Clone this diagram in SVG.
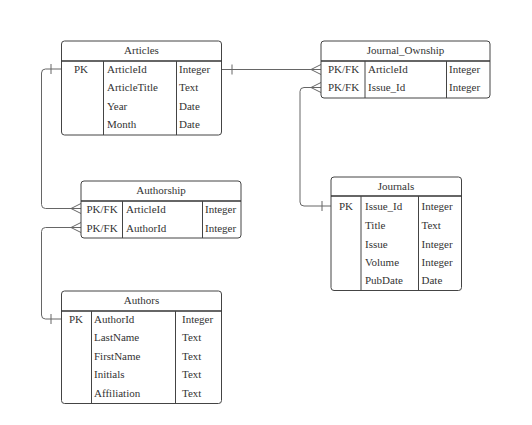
<svg xmlns="http://www.w3.org/2000/svg" width="532" height="425" viewBox="0 0 532 425">
<style>
.box{fill:#fff;stroke:#444;stroke-width:1}
.ln{stroke:#444;stroke-width:1;fill:none}
.hd{stroke:#333;stroke-width:1.3}
text{font-family:'Liberation Serif','DejaVu Serif',serif;font-size:11px;fill:#333}
.c{text-anchor:middle}
.cn{stroke:#666;stroke-width:1;fill:none}
</style>
<rect width="532" height="425" fill="#fff"/>
<g id="connectors">
<path class="cn" d="M222 69.5H311"/>
<path class="cn" d="M232 64.5V74.5"/>
<path class="cn" d="M311 69.5L321 64.5M311 69.5H321M311 69.5L321 74.5"/>
<path class="cn" d="M321 87.5H304Q300 87.5 300 91.5V202Q300 206 304 206H331"/>
<path class="cn" d="M311 87.5L321 82.5M311 87.5L321 92.5"/>
<path class="cn" d="M322 201V211"/>
<path class="cn" d="M61 69H45.5Q41.5 69 41.5 73V204.5Q41.5 208.5 45.5 208.5H81"/>
<path class="cn" d="M51 64V74"/>
<path class="cn" d="M71 208.5L81 203.5M71 208.5L81 213.5"/>
<path class="cn" d="M81 227.5H45.5Q41.5 227.5 41.5 231.5V315Q41.5 319 45.5 319H61"/>
<path class="cn" d="M71 227.5L81 222.5M71 227.5L81 232.5"/>
<path class="cn" d="M51 314V324"/>
</g>
<g id="articles">
<rect class="box" x="61.5" y="41" width="160" height="94" rx="3"/>
<path class="hd" d="M61.5 61H221.5"/>
<path class="ln" d="M103.5 61V135M176.5 61V135"/>
<text x="141.5" y="54" class="c">Articles</text>
<text x="74" y="72.5">PK</text>
<text x="107" y="72.5">ArticleId</text><text x="179" y="72.5">Integer</text>
<text x="107" y="91">ArticleTitle</text><text x="179" y="91">Text</text>
<text x="107" y="109.5">Year</text><text x="179" y="109.5">Date</text>
<text x="107" y="128">Month</text><text x="179" y="128">Date</text>
</g>
<g id="journal_ownship">
<rect class="box" x="321" y="41" width="169" height="57" rx="3"/>
<path class="hd" d="M321 61H490"/>
<path class="ln" d="M365 61V98M446.5 61V98"/>
<text x="405.5" y="54" class="c">Journal_Ownship</text>
<text x="328" y="72.5">PK/FK</text><text x="368" y="72.5">ArticleId</text><text x="449" y="72.5">Integer</text>
<text x="328" y="91">PK/FK</text><text x="368" y="91">Issue_Id</text><text x="449" y="91">Integer</text>
</g>
<g id="authorship">
<rect class="box" x="81" y="181" width="160" height="57" rx="3"/>
<path class="hd" d="M81 201H241"/>
<path class="ln" d="M122.5 201V238M202.5 201V238"/>
<text x="161" y="194" class="c">Authorship</text>
<text x="86.5" y="212.5">PK/FK</text><text x="126" y="212.5">ArticleId</text><text x="205" y="212.5">Integer</text>
<text x="86.5" y="231.5">PK/FK</text><text x="126" y="231.5">AuthorId</text><text x="205" y="231.5">Integer</text>
</g>
<g id="journals">
<rect class="box" x="331" y="177" width="130.5" height="113.5" rx="3"/>
<path class="hd" d="M331 196H461.5"/>
<path class="ln" d="M361 196V290.5M418.5 196V290.5"/>
<text x="396" y="190" class="c">Journals</text>
<text x="339" y="210">PK</text>
<text x="365" y="210">Issue_Id</text><text x="421.5" y="210">Integer</text>
<text x="365" y="229">Title</text><text x="421.5" y="229">Text</text>
<text x="365" y="247.5">Issue</text><text x="421.5" y="247.5">Integer</text>
<text x="365" y="265.5">Volume</text><text x="421.5" y="265.5">Integer</text>
<text x="365" y="284">PubDate</text><text x="421.5" y="284">Date</text>
</g>
<g id="authors">
<rect class="box" x="61.5" y="291" width="160" height="112.5" rx="3"/>
<path class="hd" d="M61.5 311H221.5"/>
<path class="ln" d="M91.5 311V403.5M175.5 311V403.5"/>
<text x="141.5" y="304" class="c">Authors</text>
<text x="69" y="322.5">PK</text>
<text x="94" y="322.5">AuthorId</text><text x="182" y="322.5">Integer</text>
<text x="94" y="341">LastName</text><text x="182" y="341">Text</text>
<text x="94" y="360">FirstName</text><text x="182" y="360">Text</text>
<text x="94" y="378">Initials</text><text x="182" y="378">Text</text>
<text x="94" y="396.5">Affiliation</text><text x="182" y="396.5">Text</text>
</g>
</svg>
